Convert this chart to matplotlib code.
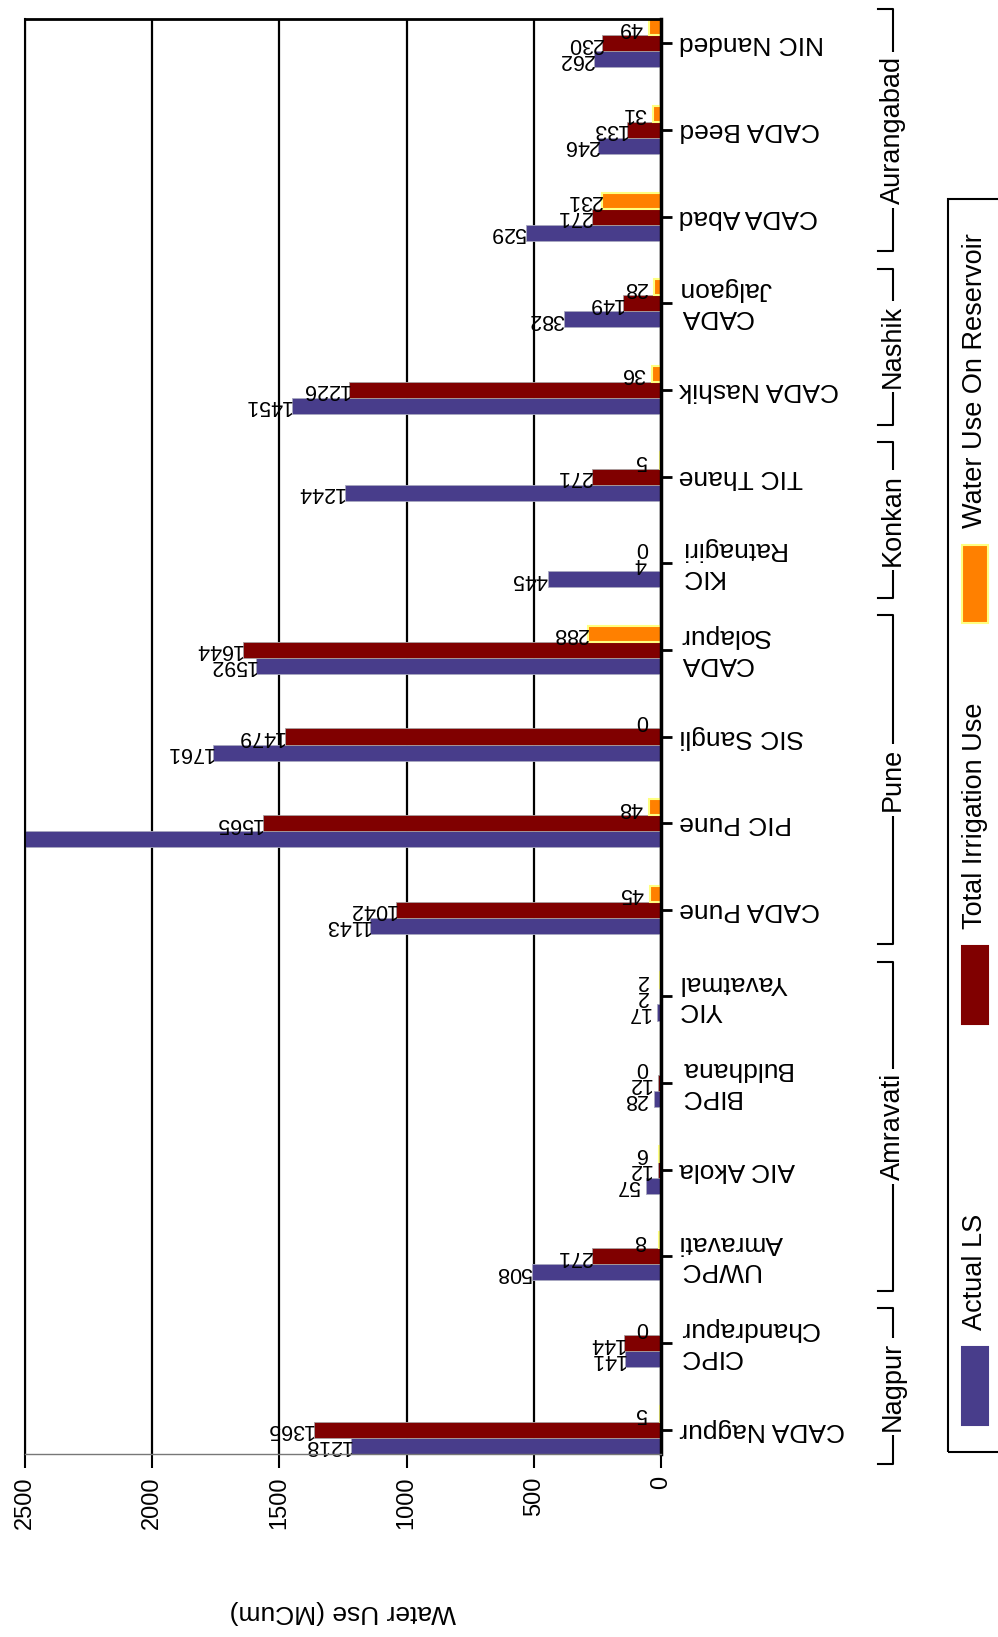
"""
Water use per irrigation circle (rotated bar chart, 0 at the right).
"""
import matplotlib
matplotlib.use("Agg")
import matplotlib.pyplot as plt
import matplotlib.transforms as mtransforms
from matplotlib.lines import Line2D
from matplotlib.patches import Rectangle
import numpy as np

plt.rcParams["font.family"] = ["Liberation Sans", "DejaVu Sans"]

# ── data ────────────────────────────────────────────────────────────────────
CATEGORIES = ["CADA Nagpur", "CIPC\nChandrapur", "UWPC\nAmravati", "AIC Akola",
              "BIPC\nBuldhana", "YIC\nYavatmal", "CADA Pune", "PIC Pune",
              "SIC Sangli", "CADA\nSolapur", "KIC\nRatnagiri", "TIC Thane",
              "CADA Nashik", "CADA\nJalgaon", "CADA Abad", "CADA Beed",
              "NIC Nanded"]
ACTUAL_LS  = [1218, 141, 508, 57, 28, 17, 1143, 2600, 1761, 1592, 445, 1244,
              1451, 382, 529, 246, 262]
IRRIGATION = [1365, 144, 271, 12, 12, 2, 1042, 1565, 1479, 1644, 4, 271,
              1226, 149, 271, 133, 230]
RESERVOIR  = [5, 0, 8, 6, 0, 2, 45, 48, 0, 288, 0, 5, 36, 28, 231, 31, 49]

GROUPS      = ["Nagpur", "Amravati", "Pune", "Konkan", "Nashik", "Aurangabad"]
GROUP_SPANS = [(0, 1), (2, 5), (6, 9), (10, 11), (12, 13), (14, 16)]

SERIES  = ["Actual LS", "Total Irrigation Use", "Water Use On Reservoir"]
X_TICKS = [0, 500, 1000, 1500, 2000, 2500]

BLUE, RED, ORANGE, YELLOW = "#483D8B", "#800000", "#FF8000", "#FFFF80"

W, H = 998, 1637
fx = lambda px: px / W
fy = lambda py: 1 - py / H

# ── figure ──────────────────────────────────────────────────────────────────
fig = plt.figure(figsize=(W / 100, H / 100), dpi=100)
ax = fig.add_axes([fx(25), fy(1454), fx(661) - fx(25), (1454 - 19) / H])

idx = np.arange(len(CATEGORIES))
h = 0.185

bars = [
    (ACTUAL_LS,  -h, BLUE,   "#a8a8c0", 0.6),
    (IRRIGATION,  0, RED,    "#a8a0a0", 0.6),
    (RESERVOIR,   h, ORANGE, YELLOW,    1.5),
]
for vals, off, fc, ec, lw in bars:
    ax.barh(idx + off, vals, height=h, color=fc, edgecolor=ec, linewidth=lw,
            zorder=3)
    for y, v in zip(idx + off, vals):
        s = str(v)
        shift = max(0, 3 - len(s)) * 4.7
        ax.annotate(s, xy=(v, y), xytext=(-shift, 0), textcoords="offset points",
                    rotation=180, ha="right", va="center", fontsize=15.5,
                    zorder=4)

ax.set_xlim(2500, 0)
ax.set_ylim(-0.28, len(CATEGORIES) - 1 + 0.28)

ax.set_xticks(X_TICKS)
ax.set_xticklabels([str(t) for t in X_TICKS], rotation=90, fontsize=17)
ax.tick_params(axis="x", length=10, width=1.5, pad=6)
ax.xaxis.grid(True, color="black", linewidth=1.6)
ax.set_axisbelow(True)

ax.yaxis.tick_right()
ax.set_yticks(idx)
ax.set_yticklabels(CATEGORIES, rotation=180, fontsize=19, va="center",
                   ha="left", multialignment="right")
ax.tick_params(axis="y", length=8, width=2, pad=5)

ax.set_xlabel("Water Use (MCum)", fontsize=19, rotation=180)
ax.xaxis.set_label_coords(0.5, -0.102)
ax.xaxis.label.set_va("top")

ax.spines["right"].set_linewidth(2.5)
ax.spines["top"].set_linewidth(2)
ax.spines["left"].set_linewidth(1.5)
ax.spines["bottom"].set_color("#777777")
ax.spines["bottom"].set_linewidth(1)
for sp in ax.spines.values():
    sp.set_zorder(5)

# ── region brackets ─────────────────────────────────────────────────────────
trans = mtransforms.blended_transform_factory(fig.transFigure, ax.transData)
for name, (a, b) in zip(GROUPS, GROUP_SPANS):
    y0, y1 = a - 0.4, b + 0.4
    fig.add_artist(Line2D([fx(878), fx(893), fx(893), fx(878)], [y0, y0, y1, y1],
                          transform=trans, color="black", lw=1.5))
    fig.text(fx(893), (a + b) / 2, name, transform=trans, rotation=90,
             ha="center", va="center", fontsize=19.5,
             bbox=dict(facecolor="white", edgecolor="none", pad=3))

# ── legend (rotated, drawn by hand) ─────────────────────────────────────────
fig.add_artist(Rectangle((fx(948), fy(1452)), fx(1010) - fx(948), (1452 - 199) / H,
                         transform=fig.transFigure, fill=False,
                         edgecolor="black", linewidth=1.5))
legend_style = [(BLUE, BLUE), (RED, RED), (ORANGE, YELLOW)]
for i, (label, (fc, ec)) in enumerate(zip(SERIES, legend_style)):
    bottom = 1425 - i * 401
    fig.add_artist(Rectangle((fx(962), fy(bottom)), fx(988) - fx(962), 78 / H,
                             transform=fig.transFigure, facecolor=fc,
                             edgecolor=ec, linewidth=1.5))
    fig.text(fx(975), fy(bottom - 78 - 17), label, rotation=90, ha="center",
             va="bottom", fontsize=19.5)

fig.savefig("out.png", dpi=100)
